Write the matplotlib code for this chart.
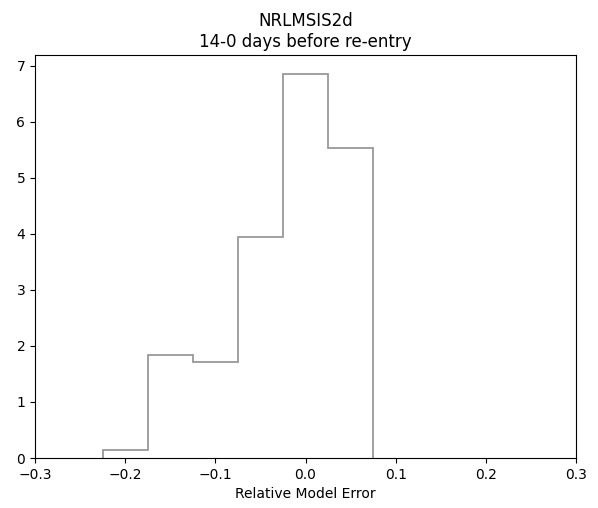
import matplotlib
matplotlib.use("Agg")
import matplotlib.pyplot as plt
import numpy as np

# Histogram bin edges and density values
bin_edges = [-0.225, -0.175, -0.125, -0.075, -0.025, 0.025, 0.075]
density = [0.136, 1.843, 1.713, 3.944, 6.852, 5.543]

model_name = "NRLMSIS2d"
window = "14-0 days before re-entry"
xlabel = "Relative Model Error"

fig = plt.figure(figsize=(5.98, 5.08), dpi=100)
ax = fig.add_axes([35 / 598, 50 / 508, 541 / 598, 403 / 508])

ax.stairs(density, bin_edges, color="#999999", linewidth=1.3, baseline=0)

ax.set_xlim(-0.3, 0.3)
ax.set_ylim(0, max(density) * 1.05)
ax.set_xticks(np.round(np.arange(-0.3, 0.31, 0.1), 1))
ax.set_title(f"{model_name}\n{window}")
ax.set_xlabel(xlabel)

fig.savefig("out.png", dpi=100)
